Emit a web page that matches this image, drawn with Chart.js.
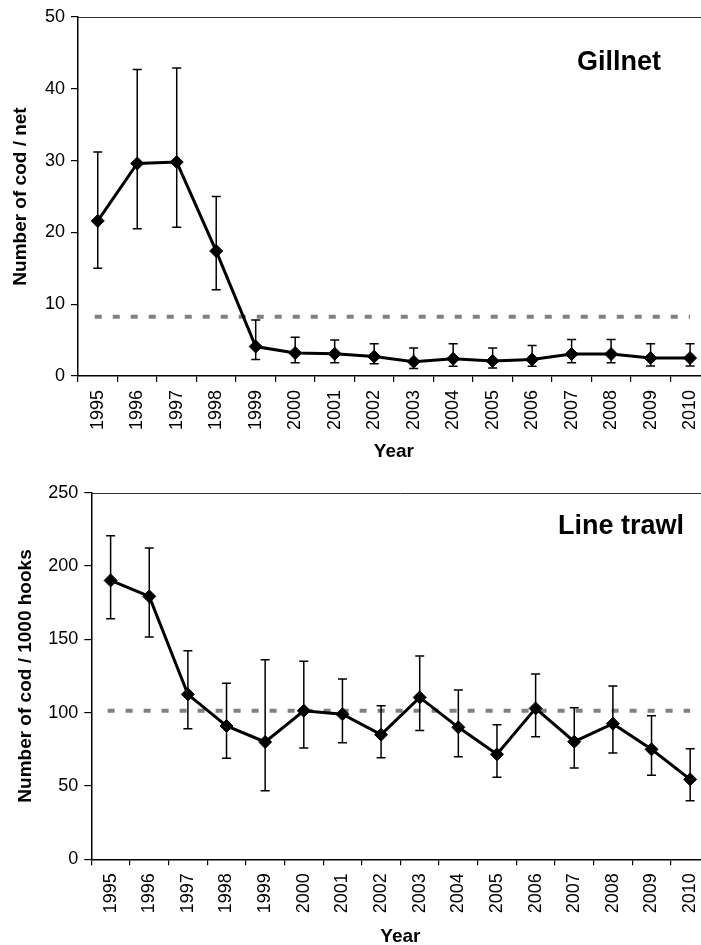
<!DOCTYPE html>
<html>
<head>
<meta charset="utf-8">
<script src="https://cdn.jsdelivr.net/npm/chart.js@4.4.1/dist/chart.umd.min.js"></script>
<style>
html, body { margin: 0; padding: 0; background: #fff; }
#wrap { position: relative; width: 701px; height: 945px; overflow: hidden; }
canvas { position: absolute; left: 0; }
</style>
</head>
<body>
<div id="wrap">
  <canvas id="chart1" width="720" height="470" style="top:0"></canvas>
  <canvas id="chart2" width="720" height="480" style="top:470px"></canvas>
</div>
<script>
const years = ['1995', '1996', '1997', '1998', '1999', '2000', '2001', '2002',
               '2003', '2004', '2005', '2006', '2007', '2008', '2009', '2010'];

// Gillnet: number of cod per net
const gillnetMean = [21.6, 29.6, 29.8, 17.4, 4.1, 3.2, 3.1, 2.7, 2.0, 2.4, 2.1, 2.3, 3.05, 3.05, 2.5, 2.5];
const gillnetHigh = [31.2, 42.7, 42.9, 25.0, 7.8, 5.4, 5.0, 4.5, 3.9, 4.5, 3.9, 4.25, 5.1, 5.1, 4.5, 4.5];
const gillnetLow  = [15.0, 20.5, 20.7, 12.0, 2.3, 1.85, 1.85, 1.7, 1.05, 1.35, 1.1, 1.35, 1.85, 1.85, 1.4, 1.4];
const gillnetRef = 8.25;

// Line trawl: number of cod per 1000 hooks
const trawlMean = [190.2, 179.3, 112.5, 90.9, 80.0, 101.3, 98.9, 85.0, 110.4, 90.0, 71.6, 102.9, 80.2, 92.5, 75.0, 54.5];
const trawlHigh = [220.7, 212.3, 142.2, 120.0, 136.1, 135.0, 122.9, 104.7, 138.6, 115.4, 91.8, 126.3, 103.4, 118.2, 97.9, 75.4];
const trawlLow  = [164.1, 151.6, 89.1, 68.9, 46.8, 75.9, 79.5, 69.3, 87.9, 70.0, 55.9, 83.6, 62.2, 72.5, 57.3, 40.0];
const trawlRef = 101.3;

const FONT = 'Arial, "Liberation Sans", sans-serif';

// dashed reference line + error bars, under the series
const extras = {
    id: 'extras',
    beforeDatasetsDraw(chart, args, opts) {
        const {ctx, chartArea} = chart;
        const x = chart.scales.x, y = chart.scales.y;
        ctx.save();
        // top frame line
        ctx.strokeStyle = '#333';
        ctx.lineWidth = 1;
        ctx.beginPath();
        ctx.moveTo(chartArea.left, Math.round(chartArea.top) + 0.5);
        ctx.lineTo(chartArea.right, Math.round(chartArea.top) + 0.5);
        ctx.stroke();

        const ry = y.getPixelForValue(opts.ref);
        ctx.strokeStyle = '#808080';
        ctx.lineWidth = 4;
        ctx.setLineDash([7, 11]);
        ctx.beginPath();
        ctx.moveTo(x.getPixelForValue(0) - 3, ry);
        ctx.lineTo(x.getPixelForValue(opts.low.length - 1), ry);
        ctx.stroke();
        ctx.setLineDash([]);

        ctx.strokeStyle = '#000';
        ctx.lineWidth = 1.5;
        opts.low.forEach((lo, i) => {
            const px = x.getPixelForValue(i);
            const y1 = y.getPixelForValue(lo), y2 = y.getPixelForValue(opts.high[i]);
            ctx.beginPath();
            ctx.moveTo(px, y1); ctx.lineTo(px, y2);
            ctx.moveTo(px - 4.5, y1); ctx.lineTo(px + 4.5, y1);
            ctx.moveTo(px - 4.5, y2); ctx.lineTo(px + 4.5, y2);
            ctx.stroke();
        });
        ctx.restore();
    },
    afterDraw(chart, args, opts) {
        const ctx = chart.ctx;
        ctx.save();
        ctx.font = 'bold 27px ' + FONT;
        ctx.fillStyle = '#000';
        ctx.textAlign = 'center';
        ctx.textBaseline = 'middle';
        ctx.fillText(opts.label, opts.labelX, opts.labelY);
        ctx.restore();
    }
};

function makeChart(el, cfg) {
    return new Chart(el, {
        type: 'line',
        data: {
            labels: years,
            datasets: [{
                data: cfg.values,
                borderColor: '#000',
                borderWidth: 3,
                backgroundColor: '#000',
                pointStyle: 'rectRot',
                pointRadius: 6.5,
                pointBorderWidth: 1,
                tension: 0
            }]
        },
        options: {
            responsive: false,
            animation: false,
            layout: { padding: { top: cfg.padTop, right: cfg.padRight, left: 0, bottom: 0 } },
            plugins: {
                legend: { display: false },
                tooltip: { enabled: false },
                extras: {
                    low: cfg.low, high: cfg.high, ref: cfg.ref,
                    label: cfg.label, labelX: cfg.labelX, labelY: cfg.labelY
                }
            },
            scales: {
                x: {
                    offset: true,
                    grid: { offset: true, drawOnChartArea: false, tickLength: 6, color: '#000', lineWidth: 1.2 },
                    border: { color: '#000', width: 1.5 },
                    ticks: { autoSkip: false, minRotation: 90, maxRotation: 90, padding: 8,
                             color: '#000', font: { family: FONT, size: 18 } },
                    title: { display: true, text: 'Year', color: '#000',
                             font: { family: FONT, size: 19, weight: 'bold' },
                             padding: { top: 0, bottom: cfg.xTitlePad } },
                    afterFit(s) { s.height = cfg.xHeight; }
                },
                y: {
                    min: 0, max: cfg.max,
                    grid: { drawOnChartArea: false, tickLength: 7, color: '#000', lineWidth: 1.2 },
                    border: { color: '#000', width: 1.5 },
                    ticks: { stepSize: cfg.step, padding: 6, color: '#000', font: { family: FONT, size: 18 } },
                    title: { display: true, text: cfg.yTitle, color: '#000',
                             font: { family: FONT, size: 19, weight: 'bold' },
                             padding: { top: cfg.yTitlePad, bottom: 0 } },
                    afterFit(s) { s.width = cfg.yWidth; }
                }
            }
        },
        plugins: [extras]
    });
}

makeChart(document.getElementById('chart1'), {
    values: gillnetMean, low: gillnetLow, high: gillnetHigh, ref: gillnetRef,
    max: 50, step: 10, yTitle: 'Number of cod / net',
    label: 'Gillnet', labelX: 619, labelY: 63,
    padTop: 17, padRight: 10, yWidth: 78, xHeight: 94, xTitlePad: 6.6, yTitlePad: 9.6
});

makeChart(document.getElementById('chart2'), {
    values: trawlMean, low: trawlLow, high: trawlHigh, ref: trawlRef,
    max: 250, step: 50, yTitle: 'Number of cod / 1000 hooks',
    label: 'Line trawl', labelX: 621, labelY: 57,
    padTop: 22.7, padRight: 6, yWidth: 91.3, xHeight: 90.7, xTitlePad: 1.6, yTitlePad: 14.1
});
</script>
</body>
</html>
